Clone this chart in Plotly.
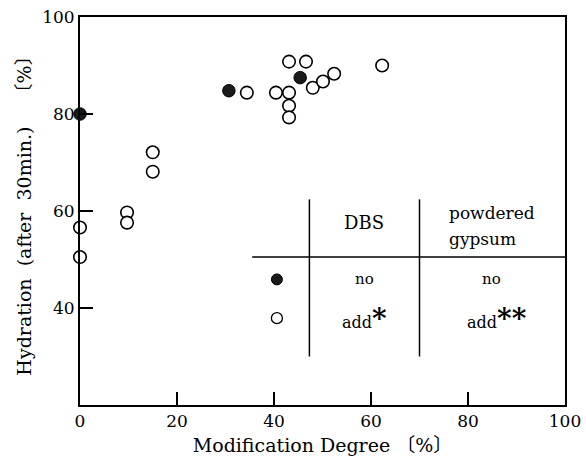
import plotly.graph_objects as go

# Data
filled_x = [0, 30.7, 45.4]
filled_y = [80, 84.8, 87.5]
open_x = [0, 0, 9.7, 9.7, 15, 15, 34.4, 40.4, 43.1, 43.1, 43.1, 43.1, 46.6, 48, 50.1, 52.4, 62.3]
open_y = [56.6, 50.5, 59.7, 57.6, 72.1, 68.1, 84.4, 84.4, 84.4, 81.7, 79.3, 90.8, 90.8, 85.4, 86.7, 88.3, 90.0]
x_ticks = [0, 20, 40, 60, 80, 100]
y_ticks = [40, 60, 80, 100]

FONT = "DejaVu Serif, Liberation Serif, Noto Sans CJK JP, serif"

fig = go.Figure()
fig.add_trace(go.Scatter(x=open_x, y=open_y, mode="markers", cliponaxis=False,
                         marker=dict(size=12.5, color="white", line=dict(color="black", width=1.6)),
                         showlegend=False))
fig.add_trace(go.Scatter(x=filled_x, y=filled_y, mode="markers", cliponaxis=False,
                         marker=dict(size=12.5, color="#1a1a1a", line=dict(color="black", width=1)),
                         showlegend=False))
# legend symbols inside the table
fig.add_trace(go.Scatter(x=[40.6], y=[45.9], mode="markers", cliponaxis=False,
                         marker=dict(size=11, color="#1a1a1a", line=dict(color="black", width=1)),
                         showlegend=False))
fig.add_trace(go.Scatter(x=[40.6], y=[37.9], mode="markers", cliponaxis=False,
                         marker=dict(size=11, color="white", line=dict(color="black", width=1.3)),
                         showlegend=False))

line = dict(color="black", width=1.5)
fig.add_shape(type="line", xref="x", yref="y", x0=35.5, x1=100, y0=50.5, y1=50.5, line=line)
fig.add_shape(type="line", xref="x", yref="y", x0=47.3, x1=47.3, y0=62.4, y1=30, line=line)
fig.add_shape(type="line", xref="x", yref="y", x0=70, x1=70, y0=62.4, y1=30, line=line)

def ann(x, y, text, size=15, xanchor="center"):
    fig.add_annotation(x=x, y=y, xref="x", yref="y", text=text, showarrow=False,
                       xanchor=xanchor, yanchor="middle",
                       font=dict(family=FONT, size=size, color="black"))

ann(58.6, 57.7, "DBS", 18)
ann(75.6, 59.5, "powdered", 17, "left")
ann(75.6, 54.3, "gypsum", 17, "left")
ann(58.6, 46.0, "no", 15)
ann(58.6, 37.8, "add<span style='font-size:28px'><b>*</b></span>", 16)
ann(84.8, 46.0, "no", 15)
ann(86.0, 37.8, "add<span style='font-size:28px'><b>**</b></span>", 16)

axis_common = dict(showline=True, linecolor="black", linewidth=1.8, mirror=True,
                   ticks="inside", ticklen=13, tickwidth=1.5, tickcolor="black",
                   showgrid=False, zeroline=False, automargin=False,
                   tickfont=dict(family=FONT, size=17, color="black"))

fig.update_layout(
    width=586, height=463,
    margin=dict(l=80, r=21, t=17, b=58, autoexpand=False),
    paper_bgcolor="white", plot_bgcolor="white",
    xaxis=dict(range=[0, 100], tickvals=x_ticks, ticktext=[str(v) for v in x_ticks],
               title=dict(text="Modification Degree 〔%〕", standoff=8,
                          font=dict(family=FONT, size=19, color="black")),
               **axis_common),
    yaxis=dict(range=[20, 100], tickvals=y_ticks, ticktext=[str(v) for v in y_ticks],
               title=dict(text="Hydration  (after  30min.)    〔%〕", standoff=6,
                          font=dict(family=FONT, size=19, color="black")),
               **axis_common),
)

fig.write_html("out.html")
